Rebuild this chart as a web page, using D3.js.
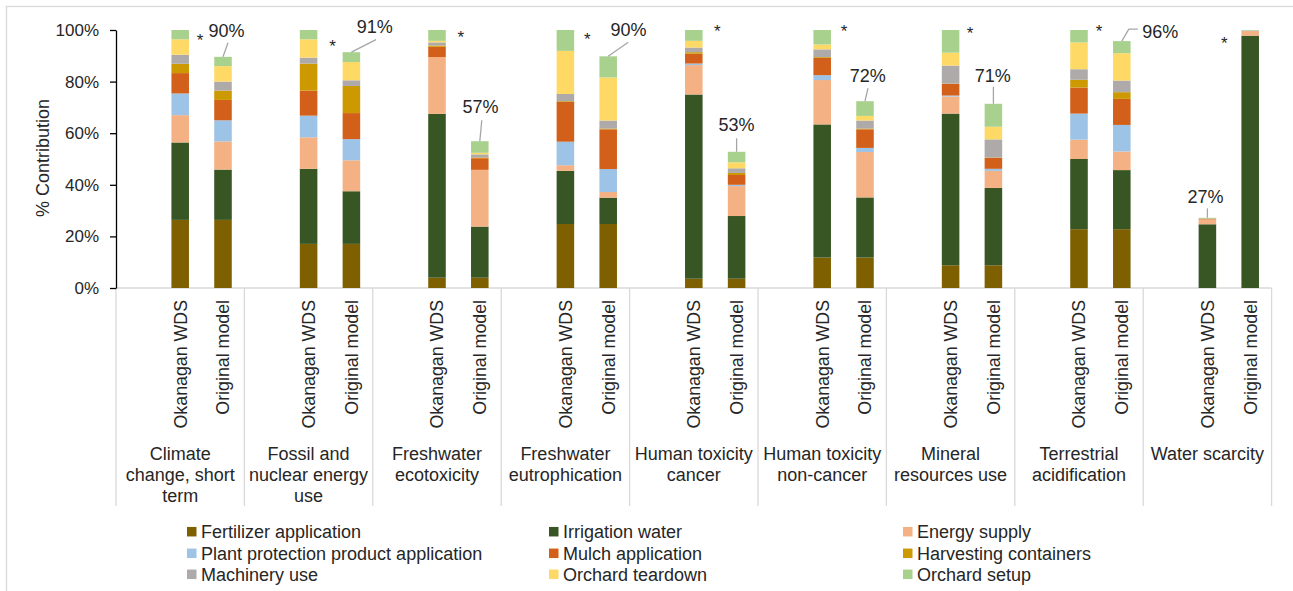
<!DOCTYPE html>
<html>
<head>
<meta charset="utf-8">
<script src="https://cdn.jsdelivr.net/npm/d3@7"></script>
<style>
    body { margin: 0; background: #fff; }
    svg text { font-family: "Liberation Sans", Arial, sans-serif; fill: #262626; }
</style>
</head>
<body>
<div id="chart"></div>
<script>
/* * * * * * * * * * * * * *
*   Contribution analysis  *
* * * * * * * * * * * * * */

// impact categories (already split into lines the way they wrap)
const categories = [
    ["Climate", "change, short", "term"],
    ["Fossil and", "nuclear energy", "use"],
    ["Freshwater", "ecotoxicity"],
    ["Freshwater", "eutrophication"],
    ["Human toxicity", "cancer"],
    ["Human toxicity", "non-cancer"],
    ["Mineral", "resources use"],
    ["Terrestrial", "acidification"],
    ["Water scarcity"]
];

const scenarios = ["Okanagan WDS", "Original model"];

const sources = ["Fertilizer application", "Irrigation water", "Energy supply",
    "Plant protection product application", "Mulch application", "Harvesting containers",
    "Machinery use", "Orchard teardown", "Orchard setup"];

// % contribution, pairs per category: Okanagan WDS, Original model
const fertilizer = [26.4, 26.4, 17.1, 17.1, 4.0, 4.0, 24.8, 24.8, 3.6, 3.6, 11.8, 11.8, 8.8, 8.8, 22.8, 22.8, 0, 0];
const irrigation = [30.0, 19.5, 29.1, 20.4, 63.5, 19.8, 20.6, 10.2, 71.4, 24.3, 51.6, 23.3, 58.8, 30.0, 27.2, 22.9, 24.7, 97.8];
const energy     = [10.6, 10.9, 12.2, 12.0, 22.0, 22.0, 2.2, 2.2, 11.4, 11.6, 17.2, 17.6, 6.6, 6.6, 7.5, 7.2, 1.9, 1.8];
const plantProt  = [8.4, 8.2, 8.4, 8.2, 0, 0, 9.1, 8.9, 0.6, 0.5, 1.9, 1.6, 0.4, 0.8, 10.1, 10.3, 0, 0.2];
const mulch      = [7.9, 7.9, 9.7, 10.1, 4.0, 4.5, 15.4, 15.4, 3.8, 3.8, 6.7, 7.2, 4.5, 4.3, 10.1, 10.1, 0.3, 0];
const harvesting = [3.6, 3.6, 10.5, 10.5, 0.5, 0.3, 0.3, 0.3, 0.6, 0.8, 0.3, 0.3, 0.1, 0.1, 3.0, 2.6, 0, 0];
const machinery  = [3.5, 3.5, 2.3, 2.2, 1.2, 1.2, 2.8, 3.1, 1.8, 1.8, 3.0, 3.1, 7.0, 7.0, 4.1, 4.5, 0, 0];
const teardown   = [6.0, 6.0, 7.1, 7.1, 0.6, 0.6, 16.7, 16.7, 2.6, 2.3, 1.9, 1.8, 5.0, 4.9, 10.4, 10.6, 0, 0];
const setup      = [3.6, 3.6, 3.6, 3.8, 4.2, 4.5, 8.1, 8.2, 4.2, 4.1, 5.6, 5.7, 8.8, 8.9, 4.8, 4.7, 0.3, 0.2];

const seriesValues = [fertilizer, irrigation, energy, plantProt, mulch, harvesting, machinery, teardown, setup];

const yTicks = [0, 20, 40, 60, 80, 100];

// colors for the sources
const sourceColors = ["#7f6000", "#375623", "#f4b183", "#9dc3e6", "#d2601a", "#cc9a00", "#aeaaaa", "#ffd966", "#a9d18e"];

// hand placed label offsets (px from bar top centre), like the excel original
const labelOffsets = [[3.5, -26], [23.3, -26], [0.7, -35], [20.3, -26.6], [0, -27], [2.7, -25.7], [-0.6, -28.3], [38.5, -10], [-2, -21.5]];
const leaderPoints = [
    [[0, 0], [5, -14]],
    [[0, 0], [24.6, -12.5]],
    [[0, 0], [2, -21]],
    [[0, 0], [20, -14]],
    [[0, 0], [0, -13.5]],
    [[0, 0], [3, -13]],
    [[0, 0], [0, -17]],
    [[0, 0], [7, -12], [16, -12]],
    [[0, 0], [0, -9.5]]
];
const starOffsets = [[19.8, 6], [24, 12.3], [23.7, 2.7], [21.9, 5.3], [23.5, -3.3], [21.8, -3.3], [19.4, -1.3], [20, -3.3], [-26, 9.3]];

class stackedViz {

    constructor(parentElement) {
        this.parentElement = parentElement;
        this.initVis();
    }

    initVis() {
        let vis = this;

        vis.width = 1293;
        vis.height = 591;
        vis.plot = {left: 116, right: 1271.6, top: 30, bottom: 288};

        vis.svg = d3.select("#" + vis.parentElement).append("svg")
            .attr("width", vis.width)
            .attr("height", vis.height);

        // chart area border (right and bottom edges fall outside the picture)
        vis.svg.append("rect")
            .attr("x", 6.5).attr("y", 6.5)
            .attr("width", 1300).attr("height", 600)
            .attr("fill", "#fff")
            .attr("stroke", "#d9d9d9")
            .attr("stroke-width", 1.3);

        // scales: one band per category, 3 slots inside (first one is empty)
        vis.x0 = d3.scaleBand()
            .domain(d3.range(categories.length))
            .range([vis.plot.left, vis.plot.right]);

        vis.x1 = d3.scaleBand()
            .domain(["", ...scenarios])
            .range([0, vis.x0.bandwidth()]);

        vis.barWidth = vis.x1.bandwidth() * 0.41;

        vis.y = d3.scaleLinear()
            .domain([0, 100])
            .range([vis.plot.bottom, vis.plot.top]);

        vis.color = d3.scaleOrdinal()
            .domain(sources)
            .range(sourceColors);

        vis.wrangleData();
    }

    wrangleData() {
        let vis = this;

        vis.rows = [];
        categories.forEach((c, i) => {
            scenarios.forEach((s, j) => {
                let row = {cat: i, scen: s};
                sources.forEach((src, k) => { row[src] = seriesValues[k][i * 2 + j]; });
                row.total = d3.sum(sources, src => row[src]);
                vis.rows.push(row);
            });
        });

        vis.stacked = d3.stack().keys(sources)(vis.rows);

        vis.updateVis();
    }

    barCenter(d) {
        let vis = this;
        return vis.x0(d.cat) + vis.x1(d.scen) + vis.x1.bandwidth() / 2;
    }

    updateVis() {
        let vis = this;

        // category axis line + separators
        vis.svg.append("line")
            .attr("x1", vis.plot.left).attr("x2", vis.plot.right)
            .attr("y1", vis.y(0)).attr("y2", vis.y(0))
            .attr("stroke", "#d9d9d9").attr("stroke-width", 1.3);

        vis.svg.selectAll(".sep")
            .data(d3.range(categories.length + 1))
            .enter().append("line")
            .attr("class", "sep")
            .attr("x1", d => vis.plot.left + d * vis.x0.step())
            .attr("x2", d => vis.plot.left + d * vis.x0.step())
            .attr("y1", vis.y(0))
            .attr("y2", 506)
            .attr("stroke", "#d9d9d9").attr("stroke-width", 1.3);

        // stacked bars
        vis.svg.selectAll(".layer")
            .data(vis.stacked)
            .enter().append("g")
            .attr("class", "layer")
            .attr("fill", d => vis.color(d.key))
            .selectAll("rect")
            .data(d => d)
            .enter().append("rect")
            .attr("x", d => vis.barCenter(d.data) - vis.barWidth / 2)
            .attr("width", vis.barWidth)
            .attr("y", d => vis.y(d[1]))
            .attr("height", d => Math.max(0, vis.y(d[0]) - vis.y(d[1])));

        // y axis
        vis.yAxisGroup = vis.svg.append("g")
            .attr("transform", `translate(${vis.plot.left}, 0)`)
            .call(d3.axisLeft(vis.y)
                .tickValues(yTicks)
                .tickFormat(d => d + "%")
                .tickSize(6)
                .tickSizeOuter(0)
                .tickPadding(11));

        vis.yAxisGroup.select(".domain").attr("stroke", "#000").attr("stroke-width", 1.3);
        vis.yAxisGroup.selectAll(".tick line").attr("stroke", "#000").attr("stroke-width", 1.3);
        vis.yAxisGroup.selectAll(".tick text")
            .attr("font-size", "17px")
            .attr("font-family", null)
            .attr("fill", null);
        vis.yAxisGroup.attr("font-family", null);

        vis.svg.append("text")
            .attr("transform", `translate(43, 158) rotate(-90)`)
            .attr("text-anchor", "middle")
            .attr("dy", "0.36em")
            .attr("font-size", "18px")
            .text("% Contribution");

        // scenario labels (rotated)
        vis.svg.selectAll(".scen-label")
            .data(vis.rows)
            .enter().append("text")
            .attr("class", "scen-label")
            .attr("transform", d => `translate(${vis.barCenter(d)}, 300) rotate(-90)`)
            .attr("text-anchor", "end")
            .attr("dy", "0.36em")
            .attr("font-size", "17.8px")
            .text(d => d.scen);

        // category labels
        let catLabels = vis.svg.selectAll(".cat-label")
            .data(categories)
            .enter().append("text")
            .attr("class", "cat-label")
            .attr("text-anchor", "middle")
            .attr("font-size", "18px");

        catLabels.selectAll("tspan")
            .data((d, i) => d.map(line => ({line: line, cat: i})))
            .enter().append("tspan")
            .attr("x", d => vis.x0(d.cat) + vis.x0.bandwidth() / 2)
            .attr("y", (d, i) => 460 + i * 21)
            .text(d => d.line);

        // total labels with leader lines (bars below 100%)
        let partial = vis.rows.filter(d => d.total < 99.5);
        let full = vis.rows.filter(d => d.total >= 99.5);

        let line = d3.line();
        vis.svg.selectAll(".leader")
            .data(partial)
            .enter().append("path")
            .attr("class", "leader")
            .attr("d", d => line(leaderPoints[d.cat].map(p => [vis.barCenter(d) + p[0], vis.y(d.total) + p[1]])))
            .attr("fill", "none")
            .attr("stroke", "#a6a6a6")
            .attr("stroke-width", 1.3);

        vis.svg.selectAll(".total-label")
            .data(partial)
            .enter().append("text")
            .attr("class", "total-label")
            .attr("x", d => vis.barCenter(d) + labelOffsets[d.cat][0])
            .attr("y", d => vis.y(d.total) + labelOffsets[d.cat][1])
            .attr("dy", "0.36em")
            .attr("text-anchor", "middle")
            .attr("font-size", "18px")
            .text(d => Math.round(d.total) + "%");

        // asterisks on the 100% bars
        vis.svg.selectAll(".star")
            .data(full)
            .enter().append("text")
            .attr("class", "star")
            .attr("x", d => vis.barCenter(d) + starOffsets[d.cat][0])
            .attr("y", d => vis.y(d.total) + starOffsets[d.cat][1])
            .attr("dy", "0.58em")
            .attr("text-anchor", "middle")
            .attr("font-size", "17px")
            .text("*");

        // legend, 3 columns filled row by row
        let legendX = [187, 549, 903];
        let legendY = [531.7, 553.3, 574.3];

        let legend = vis.svg.selectAll(".legend")
            .data(sources)
            .enter().append("g")
            .attr("class", "legend")
            .attr("transform", (d, i) => `translate(${legendX[i % 3]}, ${legendY[Math.floor(i / 3)]})`);

        legend.append("rect")
            .attr("x", 0).attr("y", -4.75)
            .attr("width", 9.5).attr("height", 9.5)
            .attr("fill", d => vis.color(d));

        legend.append("text")
            .attr("x", 14)
            .attr("dy", "0.36em")
            .attr("font-size", "18px")
            .text(d => d);
    }
}

let chart = new stackedViz("chart");
</script>
</body>
</html>
